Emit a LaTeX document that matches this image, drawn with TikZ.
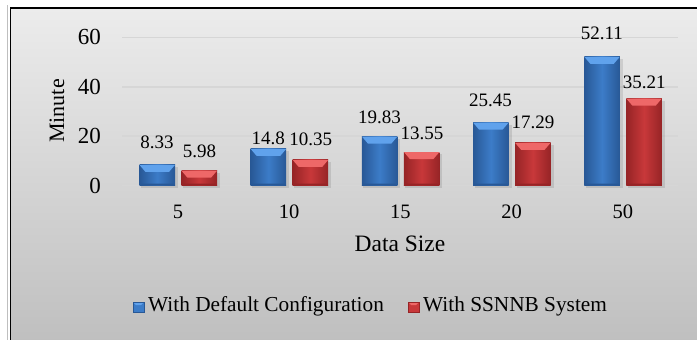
\documentclass[tikz,border=0pt]{standalone}
\usepackage{fontspec}
\setmainfont{Liberation Serif}
\definecolor{bgtop}{RGB}{236,236,236}
\definecolor{bgbot}{RGB}{190,190,190}
\definecolor{gridc}{RGB}{214,214,214}
\definecolor{bluemain}{RGB}{60,124,200}
\definecolor{bluedark}{RGB}{40,88,150}
\definecolor{bluelight}{RGB}{96,162,236}
\definecolor{redmain}{RGB}{200,56,58}
\definecolor{reddark}{RGB}{150,36,38}
\definecolor{redlight}{RGB}{238,104,104}
\tikzset{
  gridline/.style={draw=gridc, line width=1.6pt},
  ticklab/.style={font=\fontsize{23}{23}\selectfont, anchor=east, inner sep=0pt},
  catlab/.style={font=\fontsize{20.5}{20.5}\selectfont, inner sep=0pt},
  vallab/.style={font=\fontsize{19}{19}\selectfont, inner sep=0pt},
  axtitle/.style={font=\fontsize{23.5}{23.5}\selectfont, inner sep=0pt},
  legtext/.style={font=\fontsize{21.3}{21.3}\selectfont, anchor=west, inner sep=0pt},
}
% one bevelled bar: #1 left, #2 right, #3 top, #4 colour prefix (blue/red)
\newcommand\drawbevelbar[4]{%
  \fill[black, opacity=.10] (#1+1.5,#3+2) rectangle (#2+3,188);
  \shade[left color=#4dark, right color=#4dark, middle color=#4main] (#1,#3) rectangle (#2,185.5);
  \fill[#4light] (#1,#3) -- (#2,#3) -- (#2-6,#3+7) -- (#1+6,#3+7) -- cycle;
  \fill[#4dark] (#1,185.5) -- (#2,185.5) -- (#2-2,183.5) -- (#1+2,183.5) -- cycle;
}
\newcommand\drawlegmark[3]{% #1 left, #2 top, #3 colour prefix
  \fill[#3main] (#1,#2) rectangle (#1+11,#2+10);
  \fill[#3light] (#1,#2) -- (#1+11,#2) -- (#1+8,#2+3) -- (#1+3,#2+3) -- cycle;
  \draw[#3dark, line width=0.6pt] (#1,#2) rectangle (#1+11,#2+10);
}
\begin{document}
\begin{tikzpicture}[x=1pt,y=-1pt]
\useasboundingbox (0,0) rectangle (697,340);
\clip (0,0) rectangle (697,340);
% chart area with its frame
\fill[white] (0,0) rectangle (697,340);
\draw[black!25, line width=1pt] (7,5) -- (7,345);
\shade[top color=bgtop, bottom color=bgbot] (10.5,8) rectangle (705,350);
\draw[black, line width=1.6pt] (10.5,350) -- (10.5,8) -- (705,8);
% horizontal gridlines and value axis
\foreach \v/\yy in {0/185.5, 20/136.1, 40/86.7, 60/37.3} {
  \draw[gridline] (122,\yy) -- (678,\yy);
  \node[ticklab] (tick\v) at (101,\yy) {\v};
}
\node[axtitle, font=\fontsize{22}{22}\selectfont, rotate=90] (ytitle) at (57,111) {Minute};
% bars, value labels and category labels
\foreach \cat/\bv/\rv/\lb/\lr [count=\i] in {5/8.33/5.98/142/151, 10/14.8/10.35/138/139, 15/19.83/13.55/117/133, 20/25.45/17.29/100/122, 50/52.11/35.21/33/82} {
  \pgfmathsetmacro\cx{178+111.2*(\i-1)}
  \pgfmathsetmacro\tb{185.5-2.47*\bv}
  \pgfmathsetmacro\tr{185.5-2.47*\rv}
  \drawbevelbar{\cx-38.5}{\cx-3}{\tb}{blue}
  \drawbevelbar{\cx+3.5}{\cx+39}{\tr}{red}
  \node[vallab] (bl\i) at (\cx-21,\lb) {\bv};
  \node[vallab] (rl\i) at (\cx+21.5,\lr) {\rv};
  \node[catlab] (cat\i) at (\cx,211.5) {\cat};
}
\node[axtitle] (xtitle) at (400,244) {Data Size};
% legend
\drawlegmark{133}{302}{blue}
\node[legtext] (leg1) at (148,306) {With Default Configuration};
\drawlegmark{408}{302}{red}
\node[legtext] (leg2) at (423,306) {With SSNNB System};
\end{tikzpicture}
\end{document}
